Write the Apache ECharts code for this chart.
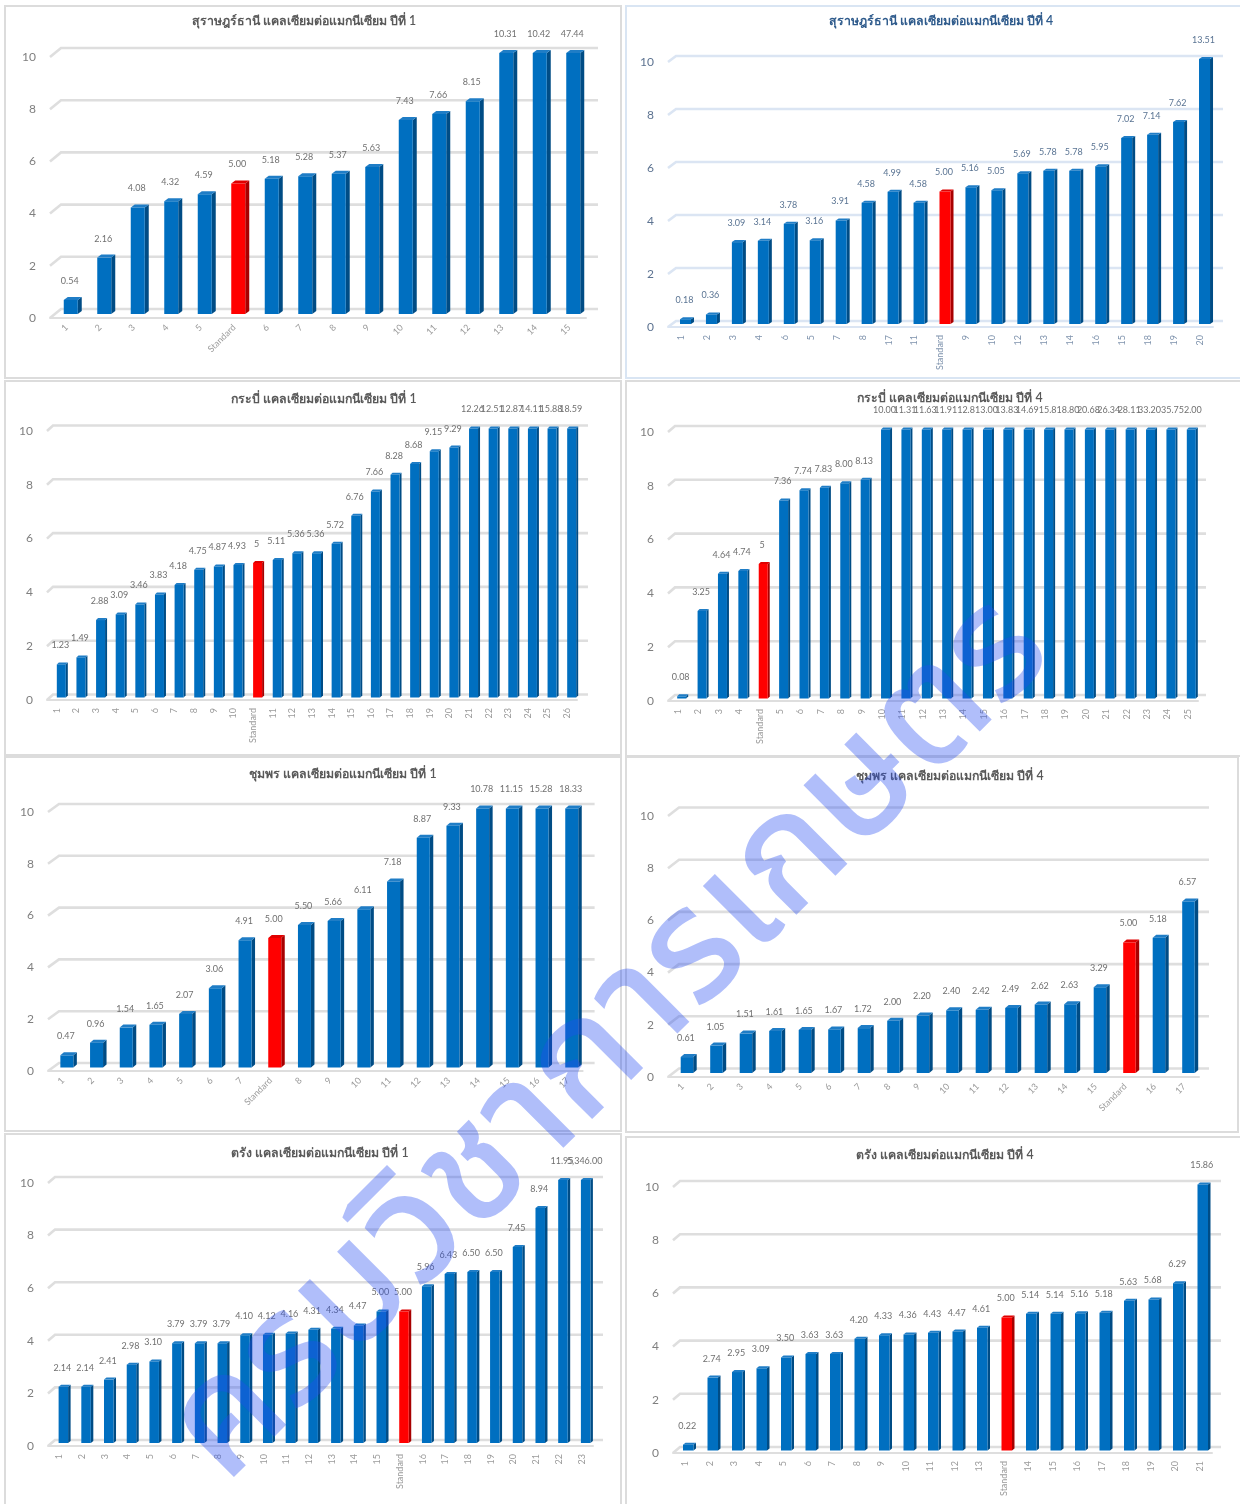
<!DOCTYPE html>
<html>
<head>
<meta charset="utf-8">
<style>html,body{margin:0;padding:0;background:#fff}#chart{width:1240px;height:1504px}</style>
<script src="https://cdn.jsdelivr.net/npm/echarts@6/dist/echarts.min.js"></script>
</head>
<body>
<div id="chart"></div>
<script>
// Calcium : magnesium ratio by sample, four provinces, year 1 and year 4.
const yTicks = [0, 2, 4, 6, 8, 10];
const yMax = 10;
const standardName = 'Standard';

const suratY1Title = 'สุราษฎร์ธานี แคลเซียมต่อแมกนีเซียม ปีที่ 1';
const suratY1Cats = ['1','2','3','4','5','Standard','6','7','8','9','10','11','12','13','14','15'];
const suratY1Vals = [0.54,2.16,4.08,4.32,4.59,5.00,5.18,5.28,5.37,5.63,7.43,7.66,8.15,10.31,10.42,47.44];
const suratY1Text = ['0.54','2.16','4.08','4.32','4.59','5.00','5.18','5.28','5.37','5.63','7.43','7.66','8.15','10.31','10.42','47.44'];

const suratY4Title = 'สุราษฎร์ธานี แคลเซียมต่อแมกนีเซียม ปีที่ 4';
const suratY4Cats = ['1','2','3','4','6','5','7','8','17','11','Standard','9','10','12','13','14','16','15','18','19','20'];
const suratY4Vals = [0.18,0.36,3.09,3.14,3.78,3.16,3.91,4.58,4.99,4.58,5.00,5.16,5.05,5.69,5.78,5.78,5.95,7.02,7.14,7.62,13.51];
const suratY4Text = ['0.18','0.36','3.09','3.14','3.78','3.16','3.91','4.58','4.99','4.58','5.00','5.16','5.05','5.69','5.78','5.78','5.95','7.02','7.14','7.62','13.51'];

const krabiY1Title = 'กระบี่ แคลเซียมต่อแมกนีเซียม ปีที่ 1';
const krabiY1Cats = ['1','2','3','4','5','6','7','8','9','10','Standard','11','12','13','14','15','16','17','18','19','20','21','22','23','24','25','26'];
const krabiY1Vals = [1.23,1.49,2.88,3.09,3.46,3.83,4.18,4.75,4.87,4.93,5,5.11,5.36,5.36,5.72,6.76,7.66,8.28,8.68,9.15,9.29,12.26,12.51,12.87,14.11,15.88,18.59];
const krabiY1Text = ['1.23','1.49','2.88','3.09','3.46','3.83','4.18','4.75','4.87','4.93','5','5.11','5.36','5.36','5.72','6.76','7.66','8.28','8.68','9.15','9.29','12.26','12.51','12.87','14.11','15.88','18.59'];

const krabiY4Title = 'กระบี่ แคลเซียมต่อแมกนีเซียม ปีที่ 4';
const krabiY4Cats = ['1','2','3','4','Standard','5','6','7','8','9','10','11','12','13','14','15','16','17','18','19','20','21','22','23','24','25'];
const krabiY4Vals = [0.08,3.25,4.64,4.74,5,7.36,7.74,7.83,8.00,8.13,10.00,11.31,11.63,11.91,12.8,13.00,13.83,14.69,15.8,18.80,20.68,26.34,28.11,33.20,35.7,52.00];
const krabiY4Text = ['0.08','3.25','4.64','4.74','5','7.36','7.74','7.83','8.00','8.13','10.00','11.31','11.63','11.91','12.8','13.00','13.83','14.69','15.8','18.80','20.68','26.34','28.11','33.20','35.7','52.00'];

const chumphonY1Title = 'ชุมพร แคลเซียมต่อแมกนีเซียม ปีที่ 1';
const chumphonY1Cats = ['1','2','3','4','5','6','7','Standard','8','9','10','11','12','13','14','15','16','17'];
const chumphonY1Vals = [0.47,0.96,1.54,1.65,2.07,3.06,4.91,5.00,5.50,5.66,6.11,7.18,8.87,9.33,10.78,11.15,15.28,18.33];
const chumphonY1Text = ['0.47','0.96','1.54','1.65','2.07','3.06','4.91','5.00','5.50','5.66','6.11','7.18','8.87','9.33','10.78','11.15','15.28','18.33'];

const chumphonY4Title = 'ชุมพร แคลเซียมต่อแมกนีเซียม ปีที่ 4';
const chumphonY4Cats = ['1','2','3','4','5','6','7','8','9','10','11','12','13','14','15','Standard','16','17'];
const chumphonY4Vals = [0.61,1.05,1.51,1.61,1.65,1.67,1.72,2.00,2.20,2.40,2.42,2.49,2.62,2.63,3.29,5.00,5.18,6.57];
const chumphonY4Text = ['0.61','1.05','1.51','1.61','1.65','1.67','1.72','2.00','2.20','2.40','2.42','2.49','2.62','2.63','3.29','5.00','5.18','6.57'];

const trangY1Title = 'ตรัง แคลเซียมต่อแมกนีเซียม ปีที่ 1';
const trangY1Cats = ['1','2','3','4','5','6','7','8','9','10','11','12','13','14','15','Standard','16','17','18','19','20','21','22','23'];
const trangY1Vals = [2.14,2.14,2.41,2.98,3.10,3.79,3.79,3.79,4.10,4.12,4.16,4.31,4.34,4.47,5.00,5.00,5.96,6.43,6.50,6.50,7.45,8.94,11.95,5346.00];
const trangY1Text = ['2.14','2.14','2.41','2.98','3.10','3.79','3.79','3.79','4.10','4.12','4.16','4.31','4.34','4.47','5.00','5.00','5.96','6.43','6.50','6.50','7.45','8.94','11.95','5,346.00'];

const trangY4Title = 'ตรัง แคลเซียมต่อแมกนีเซียม ปีที่ 4';
const trangY4Cats = ['1','2','3','4','5','6','7','8','9','10','11','12','13','Standard','14','15','16','17','18','19','20','21'];
const trangY4Vals = [0.22,2.74,2.95,3.09,3.50,3.63,3.63,4.20,4.33,4.36,4.43,4.47,4.61,5.00,5.14,5.14,5.16,5.18,5.63,5.68,6.29,15.86];
const trangY4Text = ['0.22','2.74','2.95','3.09','3.50','3.63','3.63','4.20','4.33','4.36','4.43','4.47','4.61','5.00','5.14','5.14','5.16','5.18','5.63','5.68','6.29','15.86'];

const watermarkText = 'ครบวิชาการเกษตร';

const FONT = 'Lato, "Noto Sans", sans-serif';
const grey = {title:'#595959', tick:'#7f7f7f', cat:'#9a9a9a', value:'#707070', wall:'#dedede', frame:'#dcdcdc'};
const slate = {title:'#2f5b8c', tick:'#5d7391', cat:'#7f93ad', value:'#5a7493', wall:'#dbe5f3', frame:'#d9e5f3'};

// Each panel: its data plus the frame, plot box, bar sizing and tilt of the pseudo-3D wall.
const panels = [
  {title:suratY1Title, cats:suratY1Cats, vals:suratY1Vals, text:suratY1Text, ink:grey,
   frame:[5,6,616,372], left:50, right:586, y0:318, y10:57, titleX:304, titleY:21, rot:45,
   barW:14, side:4, cap:3, shiftX:4, shiftY:4, wallDx:11, wallDy:9, wallEnd:12},
  {title:suratY4Title, cats:suratY4Cats, vals:suratY4Vals, text:suratY4Text, ink:slate,
   frame:[626,6,616,372], left:668, right:1213, y0:327, y10:62, titleX:941, titleY:21, rot:90,
   barW:11, side:3, cap:2, shiftX:4.5, shiftY:3, wallDx:8, wallDy:6, wallEnd:10},
  {title:krabiY1Title, cats:krabiY1Cats, vals:krabiY1Vals, text:krabiY1Text, ink:grey,
   frame:[5,381,616,374], left:47, right:577, y0:700, y10:431, titleX:324, titleY:399, rot:90,
   barW:9, side:2, cap:2, shiftX:4.5, shiftY:2.5, wallDx:6, wallDy:5.5, wallEnd:11},
  {title:krabiY4Title, cats:krabiY4Cats, vals:krabiY4Vals, text:krabiY4Text, ink:grey,
   frame:[626,381,616,375], left:668, right:1198, y0:701, y10:432, titleX:950, titleY:398, rot:90,
   barW:9, side:2, cap:2, shiftX:3.5, shiftY:2.5, wallDx:7, wallDy:6, wallEnd:8},
  {title:chumphonY1Title, cats:chumphonY1Cats, vals:chumphonY1Vals, text:chumphonY1Text, ink:grey,
   frame:[5,757,616,374], left:48, right:582.6, y0:1071, y10:812, titleX:343, titleY:774, rot:45,
   barW:13, side:3.5, cap:3, shiftX:4, shiftY:3.5, wallDx:11, wallDy:8, wallEnd:12},
  {title:chumphonY4Title, cats:chumphonY4Cats, vals:chumphonY4Vals, text:chumphonY4Text, ink:grey,
   frame:[626,757,612,375], left:668, right:1199, y0:1077, y10:816, titleX:950, titleY:776, rot:45,
   barW:12.5, side:3.5, cap:3, shiftX:4.2, shiftY:4, wallDx:11, wallDy:8.5, wallEnd:10},
  {title:trangY1Title, cats:trangY1Cats, vals:trangY1Vals, text:trangY1Text, ink:grey,
   frame:[5,1134,616,380], left:48, right:593, y0:1446, y10:1183, titleX:320, titleY:1153, rot:90,
   barW:9.5, side:2.5, cap:2, shiftX:4, shiftY:3, wallDx:7, wallDy:6, wallEnd:10},
  {title:trangY4Title, cats:trangY4Cats, vals:trangY4Vals, text:trangY4Text, ink:grey,
   frame:[626,1137,616,380], left:673, right:1212, y0:1453, y10:1187, titleX:945, titleY:1155, rot:90,
   barW:10.5, side:2.5, cap:2, shiftX:3, shiftY:2.5, wallDx:7, wallDy:6, wallEnd:9}
];

const CANVAS_W = 1240, CANVAS_H = 1504;

// Back-wall gridline with a short slanted stub running out to the value axis.
function wallRenderer(p) {
  return (params, api) => {
    const y = api.coord([0, api.value(1)])[1];
    const cs = params.coordSys;
    return {type:'polyline', silent:true, shape:{points:[
      [cs.x, y], [cs.x + p.wallDx, y - p.wallDy], [cs.x + cs.width + p.wallEnd, y - p.wallDy]
    ]}, style:{fill:null, stroke:p.ink.wall, lineWidth:2.6}};
  };
}

// Column with a front face, a dark side face and a cap; taller values stop at the axis top.
function barRenderer(p) {
  return (params, api) => {
    const i = api.value(0), v = api.value(1);
    const isStd = p.cats[i] === standardName;
    const top = api.coord([i, Math.min(v, yMax)]);
    const base = api.coord([i, 0]);
    const x = top[0] + p.shiftX - p.barW / 2, w = p.barW;
    const yT = top[1] - p.shiftY, yB = base[1] - p.shiftY;
    const front = isStd ? '#ff0000' : '#006fc0';
    const dark = isStd ? '#a80000' : '#004c85';
    const cap = isStd ? '#e00000' : '#1f7dc6';
    return {type:'group', children:[
      {type:'polygon', shape:{points:[[x+w,yT],[x+w+p.side,yT-p.cap],[x+w+p.side,yB-p.cap],[x+w,yB]]}, style:{fill:dark}},
      {type:'polygon', shape:{points:[[x,yT],[x+p.side,yT-p.cap],[x+w+p.side,yT-p.cap],[x+w,yT]]}, style:{fill:cap}},
      {type:'rect', shape:{x:x, y:yT, width:w, height:yB-yT}, style:{fill:front}},
      {type:'text', style:{text:p.text[i], x:top[0]+p.shiftX-1, y:yT-19, align:'center', verticalAlign:'middle',
        font:'9px '+FONT, fill:p.ink.value}}
    ]};
  };
}

const grid = [], xAxis = [], yAxis = [], series = [], title = [], frames = [];
panels.forEach((p, k) => {
  grid.push({left:p.left, top:p.y10, width:p.right-p.left, height:p.y0-p.y10, containLabel:false});
  xAxis.push({type:'category', gridIndex:k, data:p.cats,
    axisTick:{show:false}, axisLine:{lineStyle:{color:p.ink.wall, width:2}},
    axisLabel:{interval:0, rotate:p.rot, fontSize:9, margin:8, color:p.ink.cat, fontFamily:FONT}});
  yAxis.push({type:'value', gridIndex:k, min:0, max:yMax, interval:2,
    axisTick:{show:false}, axisLine:{show:false}, splitLine:{show:false},
    axisLabel:{fontSize:12, margin:14, color:p.ink.tick, fontFamily:FONT}});
  series.push({type:'custom', xAxisIndex:k, yAxisIndex:k, z:1, silent:true, clip:false,
    data:yTicks.map(t => [0, t]), encode:{x:0, y:1}, renderItem:wallRenderer(p)});
  series.push({type:'custom', xAxisIndex:k, yAxisIndex:k, z:3, silent:true, clip:false,
    data:p.vals.map((v, i) => [i, v]), encode:{x:0, y:1}, renderItem:barRenderer(p)});
  title.push({text:p.title, left:p.titleX, top:p.titleY, padding:0, textAlign:'center', textVerticalAlign:'middle',
    textStyle:{fontSize:12.3, fontWeight:600, color:p.ink.title, fontFamily:FONT}});
  const [fx, fy, fw, fh] = p.frame;
  frames.push({type:'rect', z:-1, silent:true, shape:{x:fx, y:fy, width:fw, height:fh},
    style:{fill:'#fff', stroke:p.ink.frame, lineWidth:2}});
});

const watermark = {type:'text', z:50, silent:true, x:618, y:1048, rotation:Math.PI/4,
  style:{text:watermarkText, align:'center', verticalAlign:'middle',
    font:'500 158px "Noto Sans Thai", "Noto Sans", sans-serif', fill:'rgba(35,75,240,0.36)'}};

const chart = echarts.init(document.getElementById('chart'), null, {width:CANVAS_W, height:CANVAS_H, renderer:'canvas'});
chart.setOption({animation:false, backgroundColor:'#fff', tooltip:{show:false}, title, grid, xAxis, yAxis, series,
  graphic:{elements:[...frames, watermark]}});
</script>
</body>
</html>
